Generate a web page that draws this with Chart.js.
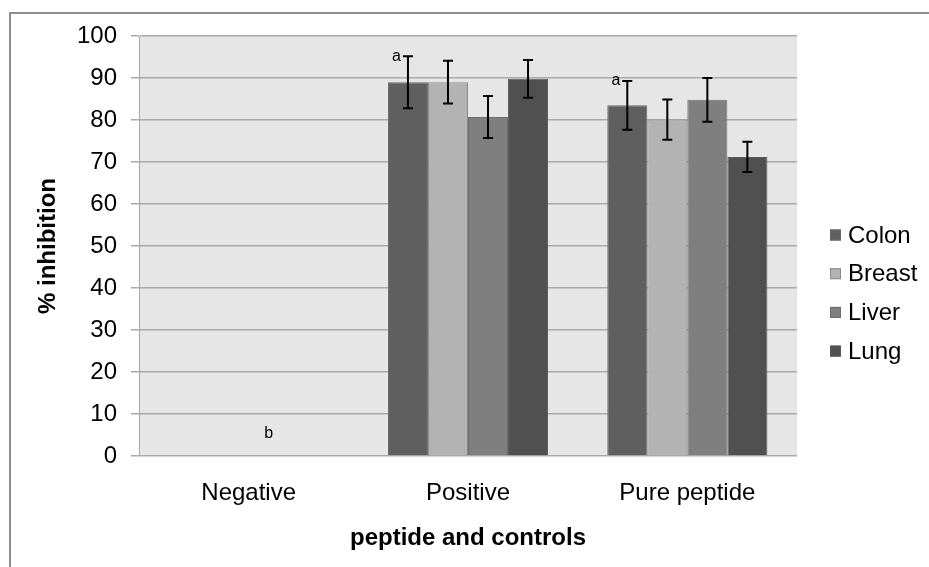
<!DOCTYPE html>
<html>
<head>
<meta charset="utf-8">
<style>
  html, body { margin: 0; padding: 0; background: #fff; }
  #wrap { width: 929px; height: 567px; }
</style>
<script src="https://cdn.jsdelivr.net/npm/chart.js@4"></script>
</head>
<body>
<div id="wrap"><canvas id="inhibChart" width="929" height="567"></canvas></div>
<script>
const categories = ["Negative", "Positive", "Pure peptide"];
const seriesNames = ["Colon", "Breast", "Liver", "Lung"];
const colon = [0, 89.0, 83.5];
const breast = [0, 89.0, 80.1];
const liver = [0, 80.7, 84.8];
const lung = [0, 89.8, 71.2];
const colonErr = [0, 6.2, 5.8];
const breastErr = [0, 5.1, 4.8];
const liverErr = [0, 5.0, 5.2];
const lungErr = [0, 4.5, 3.6];
const colonLetters = ["", "a", "a"];
const breastLetters = ["", "", ""];
const liverLetters = ["b", "", ""];
const lungLetters = ["", "", ""];
const yTicks = [0, 10, 20, 30, 40, 50, 60, 70, 80, 90, 100];

const fillColors = ["#5f5f5f", "#b3b3b3", "#7f7f7f", "#505050"];
const edgeColors = ["#6a6a6a", "#8a8a8a", "#6e6e6e", "#5a5a5a"];
const FONT = "'Liberation Sans', Arial, sans-serif";

const values = [colon, breast, liver, lung];
const errors = [colonErr, breastErr, liverErr, lungErr];
const letters = [colonLetters, breastLetters, liverLetters, lungLetters];

// grey plot area + outer frame
const backdrop = {
  id: "backdrop",
  beforeDraw(chart) {
    const { ctx, chartArea: a } = chart;
    ctx.save();
    ctx.fillStyle = "#e6e6e6";
    ctx.fillRect(a.left, a.top, a.right - a.left, a.bottom - a.top);
    ctx.strokeStyle = "#8e8e8e";
    ctx.lineWidth = 2;
    ctx.beginPath();
    ctx.moveTo(10, 567);
    ctx.lineTo(10, 13);
    ctx.lineTo(929, 13);
    ctx.stroke();
    ctx.restore();
  }
};

// error bars and significance letters
const errorBars = {
  id: "errorBars",
  afterDatasetsDraw(chart) {
    const { ctx } = chart;
    const y = chart.scales.y;
    ctx.save();
    chart.data.datasets.forEach((ds, di) => {
      const meta = chart.getDatasetMeta(di);
      meta.data.forEach((bar, i) => {
        const v = ds.data[i];
        const e = errors[di][i];
        const x = bar.x;
        if (e > 0) {
          const top = y.getPixelForValue(v + e);
          const bot = y.getPixelForValue(v - e);
          ctx.strokeStyle = "#000";
          ctx.lineWidth = 2;
          ctx.beginPath();
          ctx.moveTo(x, top); ctx.lineTo(x, bot);
          ctx.moveTo(x - 5, top); ctx.lineTo(x + 5, top);
          ctx.moveTo(x - 5, bot); ctx.lineTo(x + 5, bot);
          ctx.stroke();
        }
        const t = letters[di][i];
        if (t) {
          ctx.fillStyle = "#000";
          ctx.font = "16px " + FONT;
          ctx.textBaseline = "middle";
          if (e > 0) {
            ctx.textAlign = "right";
            ctx.fillText(t, x - 7, y.getPixelForValue(v + e));
          } else {
            ctx.textAlign = "center";
            ctx.fillText(t, x, y.getPixelForValue(v) - 22);
          }
        }
      });
    });
    ctx.restore();
  }
};

// legend to the right of the plot
const sideLegend = {
  id: "sideLegend",
  afterDraw(chart) {
    const { ctx } = chart;
    ctx.save();
    ctx.font = "24px " + FONT;
    ctx.textAlign = "left";
    ctx.textBaseline = "middle";
    chart.data.datasets.forEach((ds, i) => {
      const cy = 235 + i * 38.7;
      ctx.fillStyle = ds.backgroundColor;
      ctx.fillRect(830, cy - 5.5, 11, 11);
      ctx.strokeStyle = ds.borderColor;
      ctx.lineWidth = 1;
      ctx.strokeRect(830.5, cy - 5, 10, 10);
      ctx.fillStyle = "#000";
      ctx.fillText(ds.label, 848, cy + 1);
    });
    ctx.restore();
  }
};

const ctx = document.getElementById("inhibChart").getContext("2d");
new Chart(ctx, {
  type: "bar",
  data: {
    labels: categories,
    datasets: seriesNames.map((name, i) => ({
      label: name,
      data: values[i],
      backgroundColor: fillColors[i],
      borderColor: edgeColors[i],
      borderWidth: 1,
      categoryPercentage: 0.73,
      barPercentage: 1.0
    }))
  },
  options: {
    responsive: false,
    animation: false,
    devicePixelRatio: 1,
    layout: { padding: { top: 36, left: 0, right: 132, bottom: 0 } },
    plugins: {
      legend: { display: false },
      tooltip: { enabled: false }
    },
    scales: {
      x: {
        grid: { display: false },
        border: { display: false },
        ticks: { color: "#000", font: { family: FONT, size: 24 }, padding: 15 },
        title: {
          display: true,
          text: "peptide and controls",
          color: "#000",
          font: { family: FONT, size: 24, weight: "bold" },
          padding: { top: 0, bottom: 14 }
        },
        afterFit(scale) { scale.height = 111; }
      },
      y: {
        min: 0,
        max: 100,
        afterBuildTicks(scale) { scale.ticks = yTicks.map(v => ({ value: v })); },
        grid: { color: "#aaaaaa", lineWidth: 1.5, tickLength: 8, drawTicks: true },
        border: { color: "#a8a8a8", width: 1 },
        ticks: { color: "#000", font: { family: FONT, size: 24 }, padding: 14 },
        title: {
          display: true,
          text: "% inhibition",
          color: "#000",
          font: { family: FONT, size: 24, weight: "bold" },
          padding: { top: 34, bottom: 0 }
        },
        afterFit(scale) { scale.width = 139; }
      }
    }
  },
  plugins: [backdrop, errorBars, sideLegend]
});
</script>
</body>
</html>
